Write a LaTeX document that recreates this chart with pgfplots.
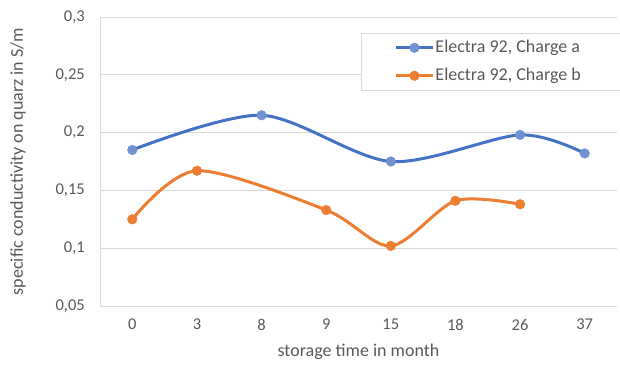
\documentclass[border=0pt]{standalone}
\usepackage{pgfplots}
\pgfplotsset{compat=1.18}
\usepackage{fontspec}
\setmainfont{Carlito}
\definecolor{txt}{HTML}{595959}
\definecolor{gridc}{HTML}{D9D9D9}
\definecolor{ba}{HTML}{4472C4}
\definecolor{bam}{HTML}{6F93D0}
\definecolor{ob}{HTML}{ED7D31}
\begin{document}
\begin{tikzpicture}
\useasboundingbox (-100bp,-61bp) rectangle (520bp,306bp);
\begin{axis}[
  at={(0,0)}, anchor=south west,
  scale only axis, width=517bp, height=289bp,
  xmin=-0.5, xmax=7.5, ymin=0.05, ymax=0.3,
  xtick={0,...,7}, xticklabels={0,3,8,9,15,18,26,37},
  ytick={0.05,0.1,0.15,0.2,0.25,0.3},
  yticklabels={{0,05},{0,1},{0,15},{0,2},{0,25},{0,3}},
  ymajorgrids, xmajorgrids=false, major grid style={draw=gridc, line width=0.8pt},
  axis line style={draw=gridc, line width=0.8pt},
  axis x line*=bottom, axis y line*=left,
  major tick length=0pt,
  ticklabel style={font=\fontsize{16.5bp}{19bp}\selectfont, text=txt, inner sep=0pt},
  xticklabel style={anchor=north, yshift=-13bp},
  yticklabel style={anchor=east, xshift=-15bp},
  xlabel={storage time in month}, ylabel={specific conductivity on quarz in S/m},
  label style={font=\fontsize{18bp}{21bp}\selectfont, text=txt},
  xlabel style={at={(axis description cs:0.5,-0.159)}, anchor=center},
  ylabel style={at={(axis description cs:-0.1586,0.5)}, anchor=center},
  /pgf/number format/assume math mode=true,
  legend style={at={(0.505,0.945)}, anchor=north west, draw=gridc, line width=0.8pt,
    font=\fontsize{18bp}{21bp}\selectfont, text=txt,
    inner xsep=33bp, inner ysep=5bp, row sep=9bp,
    nodes={inner sep=1bp, text height=13bp, text depth=4bp}},
  legend image code/.code={\draw[#1, line width=3pt] (0bp,0bp) -- (37bp,0bp); \path[#1] plot coordinates {(18.5bp,0bp)};},
  legend cell align=left,
]
\addplot+[ba, line width=3pt, smooth, tension=0.5, mark=*, mark size=4.8bp, mark options={fill=bam, draw=bam, line width=0.5pt}] coordinates {
(0,0.185) (2,0.215) (4,0.175) (6,0.198) (7,0.182)};
\addlegendentry{Electra 92, Charge a\hspace*{10bp}}
\addplot+[ob, line width=3pt, smooth, tension=0.5, mark=*, mark size=4.8bp, mark options={fill=ob, draw=ob, line width=0.5pt}] coordinates {
(0,0.125) (1,0.167) (3,0.133) (4,0.102) (5,0.141) (6,0.138)};
\addlegendentry{Electra 92, Charge b\hspace*{10bp}}
\end{axis}
\end{tikzpicture}
\end{document}
